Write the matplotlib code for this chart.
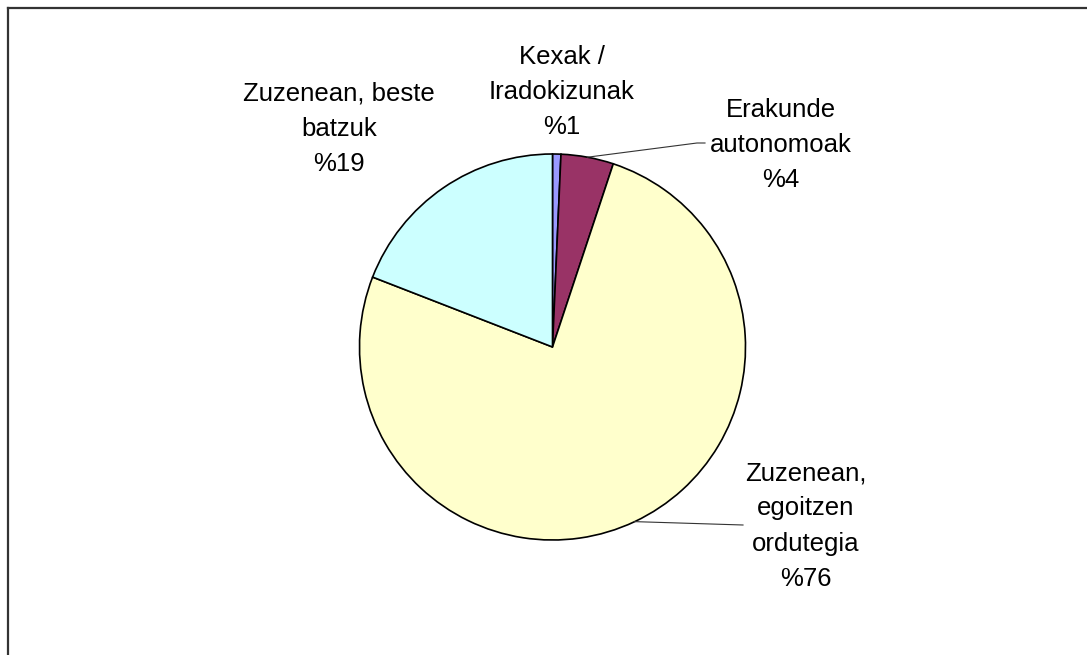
import numpy as np
import matplotlib
matplotlib.use("Agg")
import matplotlib.pyplot as plt
from matplotlib.lines import Line2D

# ---- data ----
categories = ["Kexak /\nIradokizunak", "Erakunde\nautonomoak",
              "Zuzenean,\negoitzen\nordutegia", "Zuzenean, beste\nbatzuk"]
values = [0.7, 4.4, 75.8, 19.1]
colors = ["#9999FF", "#993366", "#FFFFCC", "#CCFFFF"]

W, H = 1087, 655
plt.rcParams['font.family'] = ['Liberation Sans', 'DejaVu Sans']

fig = plt.figure(figsize=(W / 100, H / 100), dpi=100)
ax = fig.add_axes([0, 0, 1, 1])

cx, cy, R = 552.5, H - 347, 193
wedges, _ = ax.pie(values, colors=colors, startangle=90, counterclock=False,
                   center=(cx, cy), radius=R,
                   wedgeprops=dict(edgecolor="black", linewidth=1.2))
ax.set_xlim(0, W)
ax.set_ylim(0, H)
ax.set_aspect('equal')
ax.axis('off')

# label layout (pixel coords from top-left), leader flag
label_pos = [(562, 92, False), (781, 145, True), (806, 526, True), (339, 129, False)]
leader_end = [None, (697, 143), (743, 525), None]

for i, (w, cat, val) in enumerate(zip(wedges, categories, values)):
    lx, ly, lead = label_pos[i]
    ax.text(lx, H - ly, f"{cat}\n%{val:.0f}", ha="center", va="center",
            fontsize=18.5, color="black", linespacing=1.58)
    if lead:
        mid = np.deg2rad((w.theta1 + w.theta2) / 2)
        sx, sy = cx + R * np.cos(mid), cy + R * np.sin(mid)
        ex, ey = leader_end[i]
        xs = [sx, ex]
        ys = [sy, H - ey]
        if i == 1:
            xs.append(ex + 8)
            ys.append(H - ey)
        ax.plot(xs, ys, color="#333333", linewidth=0.8)

# chart area border (clipped on right/bottom)
fig.add_artist(Line2D([8 / W, 1.0], [1 - 8 / H, 1 - 8 / H], transform=fig.transFigure,
                      color="#333333", linewidth=1.6))
fig.add_artist(Line2D([8 / W, 8 / W], [1 - 8 / H, 0], transform=fig.transFigure,
                      color="#333333", linewidth=1.6))

fig.savefig("out.png", dpi=100, facecolor="white")
